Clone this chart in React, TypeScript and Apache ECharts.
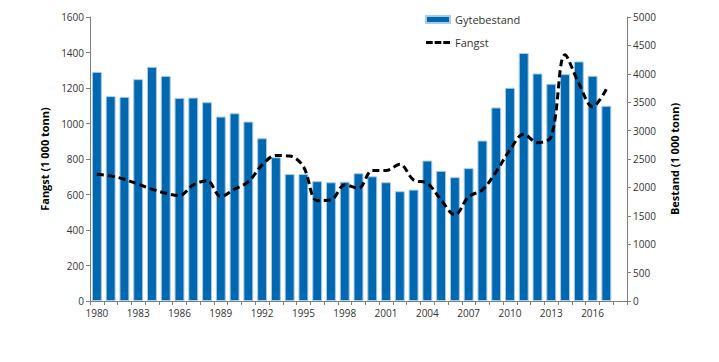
import React, { useEffect, useRef } from "react";
import * as echarts from "echarts";

const years: string[] = [
  "1980", "1981", "1982", "1983", "1984", "1985", "1986", "1987", "1988", "1989",
  "1990", "1991", "1992", "1993", "1994", "1995", "1996", "1997", "1998", "1999",
  "2000", "2001", "2002", "2003", "2004", "2005", "2006", "2007", "2008", "2009",
  "2010", "2011", "2012", "2013", "2014", "2015", "2016", "2017", "2018",
];

// Gytebestand (1 000 tonn), right axis
const gytebestand: (number | null)[] = [
  4034, 3606, 3594, 3906, 4122, 3963, 3576, 3581, 3500, 3247,
  3306, 3159, 2866, 2531, 2235, 2235, 2110, 2090, 2101, 2250,
  2195, 2091, 1933, 1961, 2472, 2291, 2180, 2339, 2825, 3407,
  3754, 4366, 4006, 3824, 3995, 4218, 3965, 3437, null,
];

// Fangst (1 000 tonn), left axis
const fangst: (number | null)[] = [
  714, 705, 686, 658, 630, 607, 594, 654, 678, 588,
  630, 672, 767, 820, 817, 757, 565, 569, 654, 635,
  735, 735, 770, 682, 663, 569, 485, 588, 626, 729,
  851, 940, 892, 926, 1387, 1227, 1095, 1193, null,
];

const leftTicks = { min: 0, max: 1600, interval: 200 };
const rightTicks = { min: 0, max: 5000, interval: 500 };

const FONT = "'Open Sans', 'Noto Sans', sans-serif";

export default function App() {
  const ref = useRef<HTMLDivElement>(null);

  useEffect(() => {
    document.body.style.margin = "0";
    if (!ref.current) return;
    const chart = echarts.init(ref.current, null, { renderer: "svg" });
    const axisLine = { show: true, lineStyle: { color: "#7f7f7f", width: 1 } };
    const label = {
      color: "#333",
      fontSize: 10,
      fontFamily: FONT,
      formatter: (v: number | string) => String(v),
    };
    chart.setOption({
      animation: false,
      textStyle: { fontFamily: FONT },
      grid: { left: 90, right: 92, top: 17, bottom: 61, containLabel: false },
      legend: {
        orient: "vertical",
        left: 420,
        top: 9,
        itemWidth: 24,
        itemHeight: 7,
        itemGap: 12,
        textStyle: { color: "#333", fontSize: 11, fontFamily: FONT },
        data: [
          { name: "Gytebestand", icon: "rect" },
          {
            name: "Fangst",
            icon: "path://M0,0H7V3H0Z M9,0H16V3H9Z M18,0H25V3H18Z",
            itemStyle: { color: "#000" },
          },
        ],
      },
      xAxis: {
        type: "category",
        data: years,
        boundaryGap: true,
        axisLine,
        axisTick: { show: true, interval: 0, length: 4, lineStyle: { color: "#7f7f7f" } },
        axisLabel: { color: "#333", fontSize: 10, fontFamily: FONT, interval: 2, margin: 7 },
        splitLine: { show: false },
      },
      yAxis: [
        {
          type: "value",
          ...leftTicks,
          position: "left",
          name: "Fangst (1 000 tonn)",
          nameLocation: "middle",
          nameGap: 38,
          nameTextStyle: { color: "#000", fontSize: 11, fontWeight: "bold", fontFamily: FONT },
          axisLine,
          axisTick: { show: true, length: 4, lineStyle: { color: "#7f7f7f" } },
          axisLabel: { ...label, margin: 6 },
          splitLine: { show: false },
        },
        {
          type: "value",
          ...rightTicks,
          position: "right",
          name: "Bestand (1 000 tonn)",
          nameLocation: "middle",
          nameGap: 42,
          nameRotate: 90,
          nameTextStyle: { color: "#000", fontSize: 11, fontWeight: "bold", fontFamily: FONT },
          axisLine,
          axisTick: { show: true, length: 4, lineStyle: { color: "#7f7f7f" } },
          axisLabel: { ...label, margin: 6 },
          splitLine: { show: false },
        },
      ],
      series: [
        {
          name: "Gytebestand",
          type: "bar",
          yAxisIndex: 1,
          data: gytebestand,
          barWidth: "72%",
          itemStyle: { color: "#0067b1", borderColor: "#a9cbe8", borderWidth: 1 },
        },
        {
          name: "Fangst",
          type: "line",
          yAxisIndex: 0,
          data: fangst,
          smooth: 0.35,
          symbol: "none",
          showSymbol: false,
          lineStyle: { color: "#000", width: 3, type: [7, 4] },
          itemStyle: { color: "#000" },
        },
      ],
    });
    return () => chart.dispose();
  }, []);

  return <div ref={ref} style={{ width: 719, height: 362 }} />;
}
